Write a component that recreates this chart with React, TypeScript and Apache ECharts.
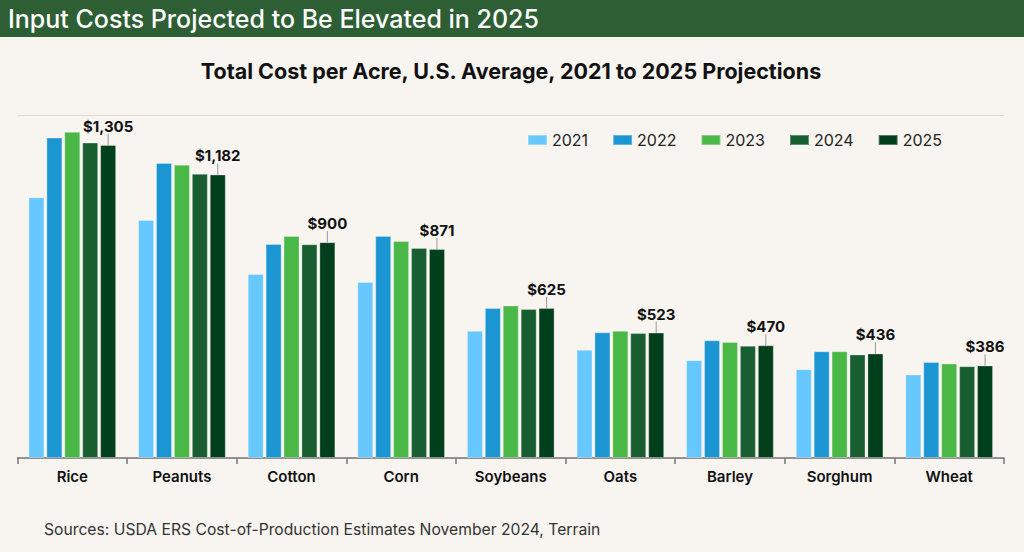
import React, { useEffect, useRef } from "react";
import * as echarts from "echarts";

const categories = ["Rice", "Peanuts", "Cotton", "Corn", "Soybeans", "Oats", "Barley", "Sorghum", "Wheat"];
const years = ["2021", "2022", "2023", "2024", "2025"];
const v2021 = [1087, 992, 767, 734, 530, 451, 408, 370, 348];
const v2022 = [1336, 1230, 892, 926, 625, 524, 491, 445, 400];
const v2023 = [1360, 1223, 926, 905, 636, 530, 484, 445, 394];
const v2024 = [1315, 1185, 891, 876, 621, 521, 468, 432, 383];
const v2025 = [1305, 1182, 900, 871, 625, 523, 470, 436, 386];
const colors = ["#66c8ff", "#1b96d3", "#4ab847", "#185e30", "#003f1c"];

const headerText = "Input Costs Projected to Be Elevated in 2025";
const titleText = "Total Cost per Acre, U.S. Average, 2021 to 2025 Projections";
const sourceText = "Sources: USDA ERS Cost-of-Production Estimates November 2024, Terrain";

const FONT = "Inter, 'Noto Sans', sans-serif";

export default function App() {
  const ref = useRef<HTMLDivElement>(null);
  useEffect(() => {
    document.body.style.margin = "0";
    const chart = echarts.init(ref.current!, null, { renderer: "svg" });
    const allValues = [v2021, v2022, v2023, v2024, v2025];
    const series = allValues.map((vals, i) => {
      const isLast = i === allValues.length - 1;
      return {
        name: years[i],
        type: "bar",
        data: vals,
        barWidth: 16,
        barGap: "12%",
        itemStyle: {
          color: colors[i],
          borderColor: "rgba(255,255,255,0.3)",
          borderWidth: 1,
        },
        label: isLast
          ? {
              show: true,
              position: "top",
              distance: 2,
              formatter: (p: any) => "$" + Number(p.value).toLocaleString("en-US"),
              fontFamily: FONT,
              fontSize: 15,
              fontWeight: "bold",
              color: "#111",
            }
          : { show: false },
        labelLayout: isLast ? { dy: -9 } : undefined,
        labelLine: isLast
          ? { show: true, lineStyle: { color: "#999", width: 1 } }
          : undefined,
      };
    });
    chart.setOption({
      animation: false,
      backgroundColor: "#f8f4f0",
      textStyle: { fontFamily: FONT },
      graphic: [
        {
          type: "rect",
          x: 0,
          y: 0,
          shape: { x: 0, y: 0, width: 1024, height: 37 },
          style: { fill: "#2e5e34" },
        },
        {
          type: "text",
          x: 8,
          y: 18.5,
          style: {
            text: headerText,
            fill: "#ffffff",
            fontFamily: FONT,
            fontSize: 25,
            fontWeight: 500,
            align: "left",
            verticalAlign: "middle",
          },
        },
        {
          type: "text",
          x: 511,
          y: 70.5,
          style: {
            text: titleText,
            fill: "#111",
            fontFamily: FONT,
            fontSize: 21.5,
            fontWeight: "bold",
            align: "center",
            verticalAlign: "middle",
          },
        },
        {
          type: "text",
          x: 44,
          y: 529,
          style: {
            text: sourceText,
            fill: "#333",
            fontFamily: FONT,
            fontSize: 15.7,
            align: "left",
            verticalAlign: "middle",
          },
        },
      ],
      legend: {
        data: years,
        right: 77,
        top: 127,
        itemWidth: 19,
        itemHeight: 10,
        itemGap: 24,
        icon: "rect",
        textStyle: { fontFamily: FONT, fontSize: 16, color: "#222" },
      },
      grid: { left: 17.5, right: 20, top: 115, bottom: 94, containLabel: false },
      xAxis: {
        type: "category",
        data: categories,
        axisLine: { lineStyle: { color: "#777", width: 1.5 } },
        axisTick: { show: true, length: 6, lineStyle: { color: "#777", width: 1.5 } },
        axisLabel: {
          fontFamily: FONT,
          fontSize: 15,
          fontWeight: 600,
          color: "#111",
          margin: 11,
        },
      },
      yAxis: {
        type: "value",
        min: 0,
        max: 1430,
        interval: 1430,
        axisLabel: { show: false },
        axisLine: { show: false },
        axisTick: { show: false },
        splitLine: { show: true, lineStyle: { color: "#dcd8d4", width: 1 } },
      },
      series,
    });
    return () => chart.dispose();
  }, []);
  return <div ref={ref} style={{ width: 1024, height: 552 }} />;
}
